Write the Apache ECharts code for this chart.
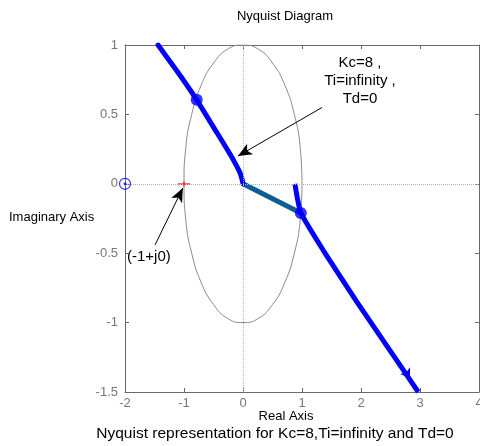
<!DOCTYPE html>
<html>
<head>
<meta charset="utf-8">
<script src="https://cdn.jsdelivr.net/npm/echarts@6/dist/echarts.min.js"></script>
<style>
html,body{margin:0;padding:0;background:#fff}
#chart{width:480px;height:446px}
</style>
</head>
<body>
<div id="chart"></div>
<script>
// Axis ticks
const xTicks = [-2, -1, 0, 1, 2, 3, 4];
const yTicks = [-1.5, -1, -0.5, 0, 0.5, 1];

// Unit circle (grey reference contour)
const circleRe = [1, 0.97, 0.87, 0.71, 0.5, 0.26, 0, -0.26, -0.5, -0.71, -0.87, -0.97, -1, -0.97, -0.87, -0.71, -0.5, -0.26, 0, 0.26, 0.5, 0.71, 0.87, 0.97, 1];
const circleIm = [0, 0.26, 0.5, 0.71, 0.87, 0.97, 1, 0.97, 0.87, 0.71, 0.5, 0.26, 0, -0.26, -0.5, -0.71, -0.87, -0.97, -1, -0.97, -0.87, -0.71, -0.5, -0.26, 0];

// Nyquist branch, upper half-plane
const upperRe = [-1.44, -1.11, -0.785, -0.446, -0.254, -0.136, -0.051, -0.014, 0];
const upperIm = [1, 0.807, 0.605, 0.371, 0.238, 0.151, 0.079, 0.029, 0];

// Nyquist branch, lower half-plane
const lowerRe = [0.88, 0.92, 0.98, 1.36, 1.93, 2.49, 2.97];
const lowerIm = [0, -0.1, -0.21, -0.479, -0.85, -1.2, -1.5];

// Segment joining the origin to the lower branch
const joinRe = [0, 0.98];
const joinIm = [0, -0.21];

// Highlighted frequency points
const dotRe = [-0.785, 0.98];
const dotIm = [0.605, -0.21];

// Critical point and pole marker
const criticalPoint = [-1, 0];
const poleMarker = [-2, 0];

const zip = (a, b) => a.map((v, i) => [v, b[i]]);

const chart = echarts.init(document.getElementById('chart'), null, { renderer: 'canvas' });

const axisColor = '#6a6a6a';
const labelColor = '#777';
const font = 'Liberation Sans, Arial, sans-serif';

const baseX = {
  type: 'value',
  min: xTicks[0],
  max: xTicks[xTicks.length - 1],
  interval: xTicks[1] - xTicks[0],
  splitLine: { show: false },
  axisLine: { show: true, onZero: false, lineStyle: { color: axisColor, width: 1 } },
  axisTick: { show: true, inside: true, length: 4, lineStyle: { color: axisColor } }
};
const baseY = {
  type: 'value',
  min: yTicks[0],
  max: yTicks[yTicks.length - 1],
  interval: yTicks[1] - yTicks[0],
  splitLine: { show: false },
  axisLine: { show: true, onZero: false, lineStyle: { color: axisColor, width: 1 } },
  axisTick: { show: true, inside: true, length: 4, lineStyle: { color: axisColor } }
};

const option = {
  animation: false,
  backgroundColor: '#fff',
  grid: { left: 125, right: 1, top: 45, bottom: 54, containLabel: false, outerBoundsMode: 'none' },
  xAxis: [
    Object.assign({}, baseX, {
      position: 'bottom',
      axisLabel: { color: labelColor, fontSize: 13, fontFamily: font, margin: 5 }
    }),
    Object.assign({}, baseX, { position: 'top', axisLabel: { show: false } })
  ],
  yAxis: [
    Object.assign({}, baseY, {
      position: 'left',
      axisLabel: { color: labelColor, fontSize: 13, fontFamily: font, margin: 7 }
    }),
    Object.assign({}, baseY, { position: 'right', axisLabel: { show: false } })
  ],
  series: [
    {
      type: 'line',
      data: zip(circleRe, circleIm),
      smooth: true,
      symbol: 'none',
      lineStyle: { color: '#8a8a8a', width: 1 },
      z: 1,
      markLine: {
        silent: true,
        symbol: 'none',
        label: { show: false },
        lineStyle: { color: '#b4b4b4', type: 'dotted', width: 1 },
        data: [{ xAxis: 0 }, { yAxis: 0 }]
      }
    },
    {
      type: 'line',
      data: zip(joinRe, joinIm),
      symbol: 'none',
      lineStyle: { color: '#0b5e92', width: 5 },
      z: 3
    },
    {
      type: 'line',
      data: zip(upperRe, upperIm),
      symbol: 'none',
      smooth: 0.15,
      lineStyle: { color: '#0000ff', width: 5, cap: 'round' },
      z: 4
    },
    {
      type: 'line',
      data: zip(lowerRe, lowerIm),
      symbol: 'none',
      smooth: 0.15,
      lineStyle: { color: '#0000ff', width: 5, cap: 'butt' },
      z: 4,
      markLine: {
        silent: true,
        symbol: ['none', 'arrow'],
        symbolSize: 9,
        label: { show: false },
        lineStyle: { color: '#0000ff', width: 1, type: 'solid' },
        data: [[{ coord: [2.76, -1.355] }, { coord: [2.83, -1.40] }]]
      }
    },
    {
      type: 'scatter',
      data: zip(dotRe, dotIm),
      symbol: 'circle',
      symbolSize: 12,
      itemStyle: { color: '#0000ff' },
      z: 5
    },
    {
      type: 'scatter',
      data: [poleMarker],
      symbol: 'circle',
      symbolSize: 11,
      itemStyle: { color: 'rgba(0,0,0,0)', borderColor: '#0000ff', borderWidth: 1.2 },
      z: 6
    },
    {
      type: 'scatter',
      data: [poleMarker],
      symbol: 'circle',
      symbolSize: 3,
      itemStyle: { color: '#0000ff' },
      z: 6
    },
    {
      type: 'scatter',
      data: [criticalPoint],
      symbol: 'path://M0,2H12V3.2H0Z M5.4,0H6.6V5H5.4Z',
      symbolSize: [12, 5],
      itemStyle: { color: '#ff0000' },
      z: 6,
      markLine: {
        silent: true,
        label: { show: false },
        lineStyle: { color: '#000', width: 1, type: 'solid' },
        symbol: ['none', 'arrow'],
        symbolSize: [9, 14],
        data: [
          [{ coord: [1.34, 0.55] }, { coord: [-0.085, 0.2] }],
          [{ coord: [-1.49, -0.44] }, { coord: [-1.02, -0.03] }]
        ]
      }
    }
  ],
  graphic: [
    { type: 'text', x: 285, y: 10, style: { text: 'Nyquist Diagram', fill: '#000', font: '13px ' + font, align: 'center' } },
    { type: 'text', x: 9, y: 211, style: { text: 'Imaginary Axis', fill: '#000', font: '13px ' + font } },
    { type: 'text', x: 286, y: 410, style: { text: 'Real Axis', fill: '#000', font: '13px ' + font, align: 'center' } },
    { type: 'text', x: 275, y: 426, style: { text: 'Nyquist representation for Kc=8,Ti=infinity and Td=0', fill: '#000', font: '15.5px ' + font, align: 'center' } },
    { type: 'text', x: 127, y: 249, style: { text: '(-1+j0)', fill: '#000', font: '15px ' + font } },
    { type: 'text', x: 360, y: 54, style: { text: 'Kc=8 ,\nTi=infinity ,\nTd=0', fill: '#000', font: '15px ' + font, align: 'center', lineHeight: 18 } }
  ]
};

chart.setOption(option);
</script>
</body>
</html>
